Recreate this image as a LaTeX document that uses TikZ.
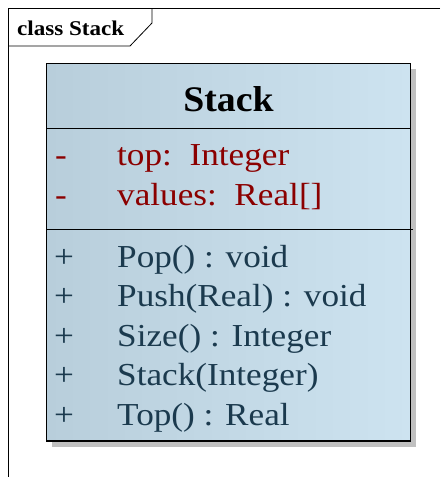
\documentclass[tikz,border=0pt]{standalone}
\usepackage{fontspec}
\setmainfont{Liberation Serif}
\newfontfamily\widefont[FakeStretch=1.1]{Liberation Serif}
\newfontfamily\titlefont[FakeStretch=1.05]{Liberation Serif}
\usetikzlibrary{calc}
\definecolor{boxL}{HTML}{B8CEDB}
\definecolor{boxR}{HTML}{CDE3F0}
\definecolor{attrc}{HTML}{8B0000}
\definecolor{opc}{HTML}{1B3A4E}
\definecolor{shadowc}{HTML}{C0C0C0}
\tikzset{
  member/.style={anchor=base west, inner sep=0pt, font=\widefont\fontsize{32}{32}\selectfont},
  attr/.style={member, text=attrc},
  oper/.style={member, text=opc},
}
\begin{document}
\begin{tikzpicture}[x=1pt,y=-1pt]
\useasboundingbox (0,0) rectangle (440,477);
% frame
\draw[line width=1pt] (440,8.5) -- (8.5,8.5) -- (8.5,477);
\draw[line width=0.8pt] (8.5,46) -- (130,46) -- (152,23) -- (152,8.5);
\node[anchor=base west, inner sep=0pt, font=\widefont\bfseries\fontsize{21}{21}\selectfont] (lbl) at (17,35) {class Stack};
% shadow
\fill[shadowc] (52,68.5) rectangle (416,447);
% box
\shade[left color=boxL, right color=boxR] (46.5,63.5) rectangle (410.5,441);
\draw[line width=1.2pt] (46.5,63.5) rectangle (410.5,441);
\draw[line width=1pt] (46.5,128) -- (410.5,128);
\draw[line width=1pt] (46.5,229) -- (413,229);
\node[anchor=base, inner sep=0pt, font=\titlefont\bfseries\fontsize{36}{36}\selectfont] (title) at (228.5,111.5) {Stack};
% attributes
\node[attr] (a1v) at (55,165.5) {-};
\node[attr] (a1) at (117,165.5) {top:~~Integer};
\node[attr] (a2v) at (55,205) {-};
\node[attr] (a2) at (117,205) {values:~~Real[]};
% operations
\node[oper] (o1v) at (54,267) {+};
\node[oper] (o1) at (117,267) {Pop() : void};
\node[oper] (o2v) at (54,306.5) {+};
\node[oper] (o2) at (117,306.5) {Push(Real) : void};
\node[oper] (o3v) at (54,346) {+};
\node[oper] (o3) at (117,346) {Size() : Integer};
\node[oper] (o4v) at (54,385.5) {+};
\node[oper] (o4) at (117,385.5) {Stack(Integer)};
\node[oper] (o5v) at (54,425) {+};
\node[oper] (o5) at (117,425) {Top() : Real};
\end{tikzpicture}
\end{document}
